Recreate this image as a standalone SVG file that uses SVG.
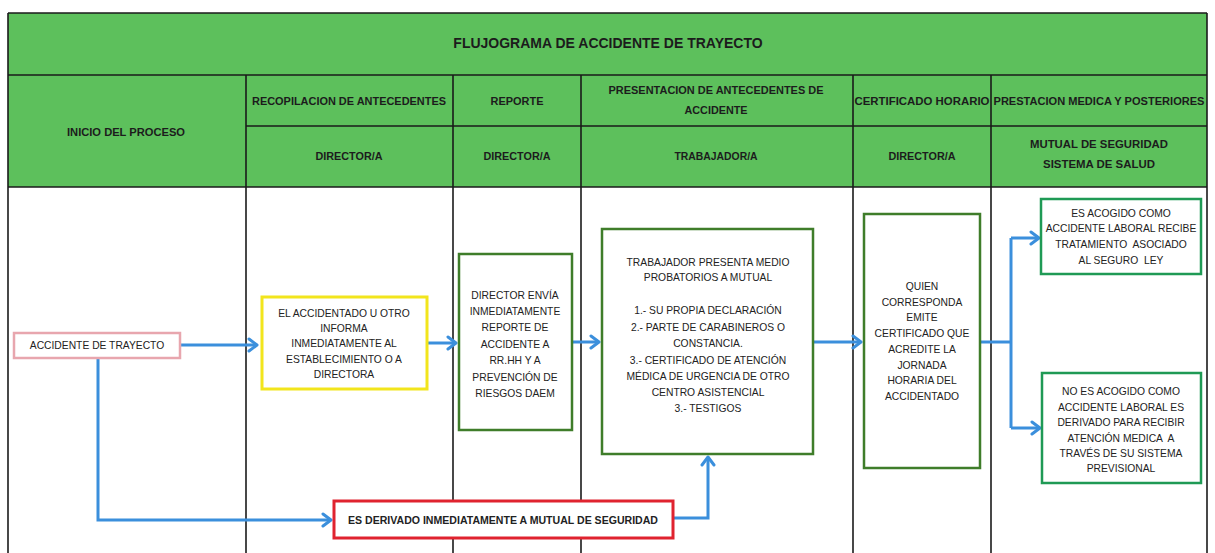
<svg xmlns="http://www.w3.org/2000/svg" width="1215" height="553" viewBox="0 0 1215 553">
<defs>
<marker id="arr" markerUnits="userSpaceOnUse" markerWidth="16" markerHeight="16" refX="11" refY="8" orient="auto">
<path d="M3,2 L11,8 L3,14" fill="none" stroke="#3b8fdc" stroke-width="3" stroke-linecap="round" stroke-linejoin="round"/>
</marker>
</defs>
<style>
.hdr{font-family:"Liberation Sans",Arial,sans-serif;font-weight:bold;font-size:11px;fill:#1c1c1c;text-anchor:middle}
.ttl{font-family:"Liberation Sans",Arial,sans-serif;font-weight:bold;font-size:14px;fill:#1c1c1c;text-anchor:middle}
.t{font-family:"Liberation Sans",Arial,sans-serif;font-size:10.3px;fill:#222;text-anchor:middle;white-space:pre}
.grid{stroke:#1a1a1a;stroke-width:1.6;fill:none}
.con{stroke:#3b8fdc;stroke-width:3;fill:none}
.gbox{fill:#fff;stroke:#3f7d2a;stroke-width:2.5}
.tbox{fill:#fff;stroke:#1f9a55;stroke-width:2.5}
</style>
<rect x="0" y="0" width="1215" height="553" fill="#fff"/>
<g id="table">
<rect x="8" y="13" width="1199" height="174" fill="#5dc05c"/>
<line class="grid" x1="8" y1="75" x2="1207" y2="75"/>
<line class="grid" x1="246" y1="126" x2="1207" y2="126"/>
<line class="grid" x1="8" y1="187" x2="1207" y2="187"/>
<line class="grid" x1="8" y1="13" x2="1207" y2="13"/>
<line class="grid" x1="8" y1="13" x2="8" y2="553"/>
<line class="grid" x1="1207" y1="13" x2="1207" y2="553"/>
<line class="grid" x1="246" y1="75" x2="246" y2="553"/>
<line class="grid" x1="453" y1="75" x2="453" y2="553"/>
<line class="grid" x1="581" y1="75" x2="581" y2="553"/>
<line class="grid" x1="853" y1="75" x2="853" y2="553"/>
<line class="grid" x1="991" y1="75" x2="991" y2="553"/>
<text class="ttl" x="608" y="48">FLUJOGRAMA DE ACCIDENTE DE TRAYECTO</text>
<text class="hdr" x="126" y="136" textLength="118" lengthAdjust="spacingAndGlyphs">INICIO DEL PROCESO</text>
<text class="hdr" x="349" y="105" textLength="194" lengthAdjust="spacingAndGlyphs">RECOPILACION DE ANTECEDENTES</text>
<text class="hdr" x="517" y="105" textLength="53" lengthAdjust="spacingAndGlyphs">REPORTE</text>
<text class="hdr" x="716" y="94" textLength="215" lengthAdjust="spacingAndGlyphs">PRESENTACION DE ANTECEDENTES DE</text>
<text class="hdr" x="716" y="114" textLength="63" lengthAdjust="spacingAndGlyphs">ACCIDENTE</text>
<text class="hdr" x="922" y="105" textLength="135" lengthAdjust="spacingAndGlyphs">CERTIFICADO HORARIO</text>
<text class="hdr" x="1099" y="105" textLength="211" lengthAdjust="spacingAndGlyphs">PRESTACION MEDICA Y POSTERIORES</text>
<text class="hdr" x="349" y="160" textLength="67" lengthAdjust="spacingAndGlyphs">DIRECTOR/A</text>
<text class="hdr" x="517" y="160" textLength="67" lengthAdjust="spacingAndGlyphs">DIRECTOR/A</text>
<text class="hdr" x="716" y="160" textLength="83" lengthAdjust="spacingAndGlyphs">TRABAJADOR/A</text>
<text class="hdr" x="922" y="160" textLength="67" lengthAdjust="spacingAndGlyphs">DIRECTOR/A</text>
<text class="hdr" x="1099" y="148" textLength="138" lengthAdjust="spacingAndGlyphs">MUTUAL DE SEGURIDAD</text>
<text class="hdr" x="1099" y="168" textLength="112" lengthAdjust="spacingAndGlyphs">SISTEMA DE SALUD</text>
</g>
<g id="connectors">
<path class="con" d="M180,345 H257" marker-end="url(#arr)"/>
<path class="con" d="M427,343 H456" marker-end="url(#arr)"/>
<path class="con" d="M572,342 H599" marker-end="url(#arr)"/>
<path class="con" d="M813,342 H861" marker-end="url(#arr)"/>
<path class="con" d="M980,342 H1011"/>
<path class="con" d="M1011,238 V428"/>
<path class="con" d="M1011,238 H1039" marker-end="url(#arr)"/>
<path class="con" d="M1011,428 H1040" marker-end="url(#arr)"/>
<path class="con" d="M98,358 V520 H331" marker-end="url(#arr)"/>
<path class="con" d="M673,518 H708 V457" marker-end="url(#arr)"/>
</g>
<g id="n-accidente">
<rect x="14" y="333" width="166" height="25" fill="#fff" stroke="#e8a6ae" stroke-width="2.5"/>
<text class="t" x="97" y="349">ACCIDENTE DE TRAYECTO</text>
</g>
<g id="n-informa">
<rect x="262" y="297" width="165" height="92" fill="#fff" stroke="#f2e51c" stroke-width="3"/>
<text class="t" x="344" y="317">EL ACCIDENTADO U OTRO</text>
<text class="t" x="344" y="332">INFORMA</text>
<text class="t" x="344" y="347">INMEDIATAMENTE AL</text>
<text class="t" x="344" y="363">ESTABLECIMIENTO O A</text>
<text class="t" x="344" y="378">DIRECTORA</text>
</g>
<g id="n-reporte">
<rect class="gbox" x="459" y="254" width="113" height="176"/>
<text class="t" x="515" y="299">DIRECTOR ENVÍA</text>
<text class="t" x="515" y="315">INMEDIATAMENTE</text>
<text class="t" x="515" y="331">REPORTE DE</text>
<text class="t" x="515" y="348">ACCIDENTE A</text>
<text class="t" x="515" y="364">RR.HH Y A</text>
<text class="t" x="515" y="381">PREVENCIÓN DE</text>
<text class="t" x="515" y="397">RIESGOS DAEM</text>
</g>
<g id="n-presenta">
<rect class="gbox" x="602" y="229" width="211" height="225"/>
<text class="t" x="708" y="266">TRABAJADOR PRESENTA MEDIO</text>
<text class="t" x="708" y="281">PROBATORIOS A MUTUAL</text>
<text class="t" x="708" y="314">1.- SU PROPIA DECLARACIÓN</text>
<text class="t" x="708" y="331">2.- PARTE DE CARABINEROS O</text>
<text class="t" x="708" y="347">CONSTANCIA.</text>
<text class="t" x="708" y="364">3.- CERTIFICADO DE ATENCIÓN</text>
<text class="t" x="708" y="380">MÉDICA DE URGENCIA DE OTRO</text>
<text class="t" x="708" y="396">CENTRO ASISTENCIAL</text>
<text class="t" x="708" y="412">3.- TESTIGOS</text>
</g>
<g id="n-certificado">
<rect class="gbox" x="864" y="214" width="116" height="254"/>
<text class="t" x="922" y="290">QUIEN</text>
<text class="t" x="922" y="306">CORRESPONDA</text>
<text class="t" x="922" y="321">EMITE</text>
<text class="t" x="922" y="337">CERTIFICADO QUE</text>
<text class="t" x="922" y="353">ACREDITE LA</text>
<text class="t" x="922" y="369">JORNADA</text>
<text class="t" x="922" y="384">HORARIA DEL</text>
<text class="t" x="922" y="400">ACCIDENTADO</text>
</g>
<g id="n-acogido">
<rect class="tbox" x="1041" y="199" width="160" height="75"/>
<text class="t" x="1121" y="217">ES ACOGIDO COMO</text>
<text class="t" x="1121" y="232">ACCIDENTE LABORAL RECIBE</text>
<text class="t" x="1121" y="248">TRATAMIENTO  ASOCIADO</text>
<text class="t" x="1121" y="264">AL SEGURO  LEY</text>
</g>
<g id="n-noacogido">
<rect class="tbox" x="1042" y="373" width="159" height="110"/>
<text class="t" x="1121" y="395">NO ES ACOGIDO COMO</text>
<text class="t" x="1121" y="411">ACCIDENTE LABORAL ES</text>
<text class="t" x="1121" y="426">DERIVADO PARA RECIBIR</text>
<text class="t" x="1121" y="442">ATENCIÓN MEDICA  A</text>
<text class="t" x="1121" y="457">TRAVÉS DE SU SISTEMA</text>
<text class="t" x="1121" y="472">PREVISIONAL</text>
</g>
<g id="n-derivado">
<rect x="334" y="501" width="339" height="37" fill="#fff" stroke="#e0232f" stroke-width="3"/>
<text class="t" x="503" y="524" font-weight="bold" textLength="310" lengthAdjust="spacingAndGlyphs">ES DERIVADO INMEDIATAMENTE A MUTUAL DE SEGURIDAD</text>
</g>
</svg>
